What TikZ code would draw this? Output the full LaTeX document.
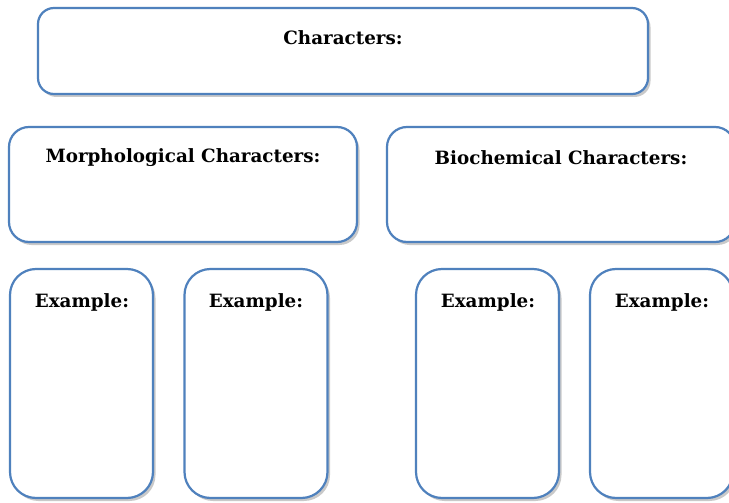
\documentclass[tikz,border=0pt]{standalone}
\usepackage{fontspec}
\setmainfont{DejaVu Serif}
\usetikzlibrary{shadows}
\definecolor{boxblue}{HTML}{4F81BD}
\begin{document}
\begin{tikzpicture}[x=1pt,y=-1pt,
  card/.style={draw=boxblue,line width=2.2pt,fill=white,rounded corners=#1,
    drop shadow={shadow xshift=2.5pt,shadow yshift=-3pt,opacity=0.35,fill=black!60}},
  card/.default=18pt,
  ttl/.style={font=\bfseries\fontsize{18.3}{21}\selectfont,inner sep=0pt,anchor=center}]
\useasboundingbox (0,0) rectangle (729,503);
\clip (0,0) rectangle (729,503);
\fill[white] (0,0) rectangle (729,503);
\node[card=16pt,minimum width=610pt,minimum height=86pt] (top) at (343,51) {};
\node[card=20pt,minimum width=348pt,minimum height=115pt] (morph) at (183,184.5) {};
\node[card=20pt,minimum width=348pt,minimum height=115pt] (bio) at (561,184.5) {};
\node[card=26pt,minimum width=143pt,minimum height=229pt] (ex1) at (81.5,383.5) {};
\node[card=26pt,minimum width=143pt,minimum height=229pt] (ex2) at (256,383.5) {};
\node[card=26pt,minimum width=143pt,minimum height=229pt] (ex3) at (487.5,383.5) {};
\node[card=26pt,minimum width=143pt,minimum height=229pt] (ex4) at (661.5,383.5) {};
\node[ttl] (ttop) at (343,38) {Characters:};
\node[ttl] (tmorph) at (183,158) {Morphological Characters:};
\node[ttl] (tbio) at (561,158) {Biochemical Characters:};
\node[ttl] (tex1) at (82,302) {Example:};
\node[ttl] (tex2) at (256,302) {Example:};
\node[ttl] (tex3) at (488,302) {Example:};
\node[ttl] (tex4) at (662,302) {Example:};
\end{tikzpicture}
\end{document}
